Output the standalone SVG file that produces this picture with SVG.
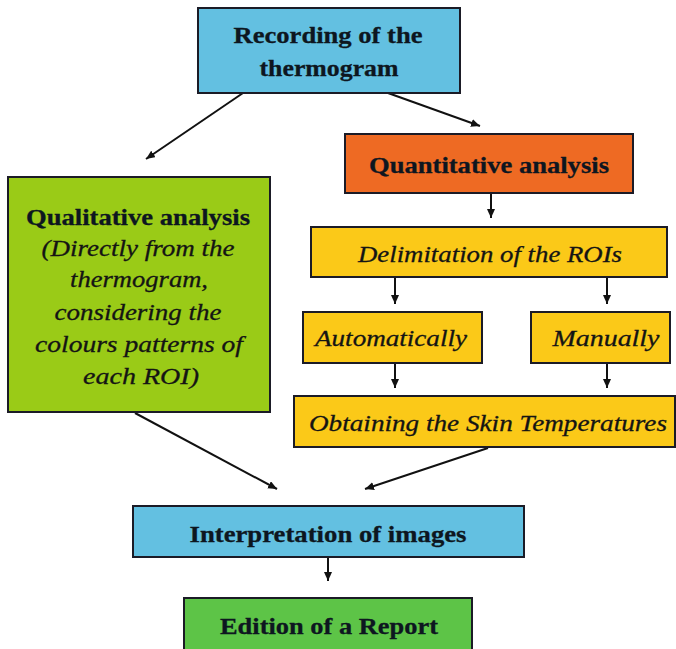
<svg xmlns="http://www.w3.org/2000/svg" width="676" height="649" viewBox="0 0 676 649">
<style>
.box{stroke:#1b1b26;stroke-width:2}
.blue{fill:#63c0e1}
.orange{fill:#ee6a23}
.lime{fill:#9acb17}
.yellow{fill:#fbc918}
.green{fill:#5dc447}
.b{font-family:"Liberation Serif","Times New Roman",serif;font-weight:bold;font-size:24px;fill:#0d1620;stroke:#0d1620;stroke-width:0.3;text-anchor:middle}
.i{font-family:"Liberation Serif","Times New Roman",serif;font-style:italic;font-size:24px;fill:#141414;stroke:#141414;stroke-width:0.3;text-anchor:middle}
.conn{stroke:#111;stroke-width:2;fill:none;marker-end:url(#ah)}
</style>
<defs>
<marker id="ah" markerUnits="userSpaceOnUse" markerWidth="10" markerHeight="10" refX="9" refY="4" orient="auto">
<path d="M0,0 L9,4 L0,8 Z" fill="#111"/>
</marker>
</defs>
<rect width="676" height="649" fill="#fff"/>
<g id="connectors">
<line class="conn" x1="243" y1="93" x2="146" y2="159"/>
<line class="conn" x1="388" y1="93" x2="480" y2="126"/>
<line class="conn" x1="491" y1="193" x2="491" y2="218"/>
<line class="conn" x1="395" y1="277" x2="395" y2="304"/>
<line class="conn" x1="607" y1="277" x2="607" y2="304"/>
<line class="conn" x1="395" y1="363" x2="395" y2="388"/>
<line class="conn" x1="607" y1="363" x2="607" y2="388"/>
<line class="conn" x1="135" y1="413" x2="277" y2="489"/>
<line class="conn" x1="488" y1="448" x2="365" y2="489"/>
<line class="conn" x1="328" y1="557" x2="328" y2="581"/>
</g>
<g id="recording">
<rect class="box blue" x="198" y="8" width="262" height="85"/>
<text class="b" x="328" y="43" textLength="189" lengthAdjust="spacingAndGlyphs">Recording of the</text>
<text class="b" x="329" y="76" textLength="139" lengthAdjust="spacingAndGlyphs">thermogram</text>
</g>
<g id="quantitative">
<rect class="box orange" x="345" y="134" width="288" height="59"/>
<text class="b" x="489" y="173" textLength="240" lengthAdjust="spacingAndGlyphs">Quantitative analysis</text>
</g>
<g id="qualitative">
<rect class="box lime" x="8" y="177" width="262" height="235"/>
<text class="b" x="138" y="225" textLength="224" lengthAdjust="spacingAndGlyphs">Qualitative analysis</text>
<text class="i" x="138" y="256" textLength="193" lengthAdjust="spacingAndGlyphs">(Directly from the</text>
<text class="i" x="139" y="287" textLength="138" lengthAdjust="spacingAndGlyphs">thermogram,</text>
<text class="i" x="138" y="320" textLength="167" lengthAdjust="spacingAndGlyphs">considering the</text>
<text class="i" x="139" y="352" textLength="208" lengthAdjust="spacingAndGlyphs">colours patterns of</text>
<text class="i" x="141" y="384" textLength="116" lengthAdjust="spacingAndGlyphs">each ROI)</text>
</g>
<g id="delimitation">
<rect class="box yellow" x="311" y="227" width="356" height="50"/>
<text class="i" x="490" y="262" textLength="264" lengthAdjust="spacingAndGlyphs">Delimitation of the ROIs</text>
</g>
<g id="automatically">
<rect class="box yellow" x="303" y="312" width="179" height="51"/>
<text class="i" x="391" y="346" textLength="152" lengthAdjust="spacingAndGlyphs">Automatically</text>
</g>
<g id="manually">
<rect class="box yellow" x="531" y="312" width="139" height="51"/>
<text class="i" x="606" y="346" textLength="107" lengthAdjust="spacingAndGlyphs">Manually</text>
</g>
<g id="obtaining">
<rect class="box yellow" x="294" y="396" width="381" height="51"/>
<text class="i" x="488" y="431" textLength="358" lengthAdjust="spacingAndGlyphs">Obtaining the Skin Temperatures</text>
</g>
<g id="interpretation">
<rect class="box blue" x="133" y="506" width="391" height="51"/>
<text class="b" x="328" y="542" textLength="277" lengthAdjust="spacingAndGlyphs">Interpretation of images</text>
</g>
<g id="edition">
<rect class="box green" x="184" y="598" width="288" height="60"/>
<text class="b" x="329" y="634" textLength="218" lengthAdjust="spacingAndGlyphs">Edition of a Report</text>
</g>
</svg>
